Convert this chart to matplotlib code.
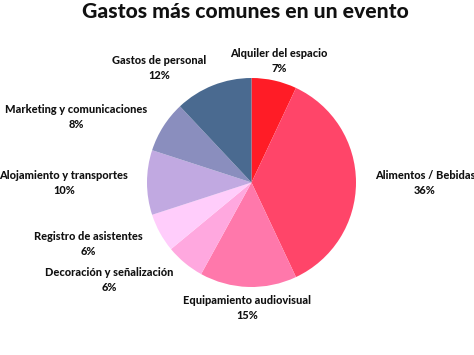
import matplotlib
matplotlib.use("Agg")
import matplotlib.pyplot as plt

categories = ["Alquiler del espacio", "Alimentos / Bebidas", "Equipamiento audiovisual",
              "Decoración y señalización", "Registro de asistentes", "Alojamiento y transportes",
              "Marketing y comunicaciones", "Gastos de personal"]
values = [7, 36, 15, 6, 6, 10, 8, 12]
colors = ["#FF1C26", "#FF4569", "#FF78AB", "#FFA8DF", "#FFCDFB", "#C1A9E1", "#8A8EBE", "#4A6A90"]
title = "Gastos más comunes en un evento"

# label centres in pixel coordinates (x, y from top)
label_pos = [(279, 61), (425, 183), (247, 308), (109, 280), (88, 244),
             (64, 183), (76, 117), (159, 68)]

W, H = 474, 355
fig = plt.figure(figsize=(W / 100, H / 100), dpi=100)
fig.patch.set_facecolor("white")
cx, cy, r = 251.5, 182.5, 104.5
ax = fig.add_axes([(cx - r) / W, (H - cy - r) / H, 2 * r / W, 2 * r / H])
ax.pie(values, colors=colors, startangle=90, counterclock=False,
       wedgeprops=dict(linewidth=0), radius=1)
ax.set_xlim(-1, 1)
ax.set_ylim(-1, 1)
ax.set_axis_off()

fam = ["Lato", "DejaVu Sans"]
fig.text(245 / W, 1 - 12 / H, title, ha="center", va="center", fontsize=15.2,
         fontweight="black", family=fam, color="#111111")
for cat, v, (x, y) in zip(categories, values, label_pos):
    fig.text(x / W, 1 - y / H, f"{cat}\n{v}%", ha="center", va="center",
             fontsize=7.9, fontweight="black", family=fam, color="#111111",
             linespacing=1.4)

fig.savefig("out.png", dpi=100, facecolor="white")
